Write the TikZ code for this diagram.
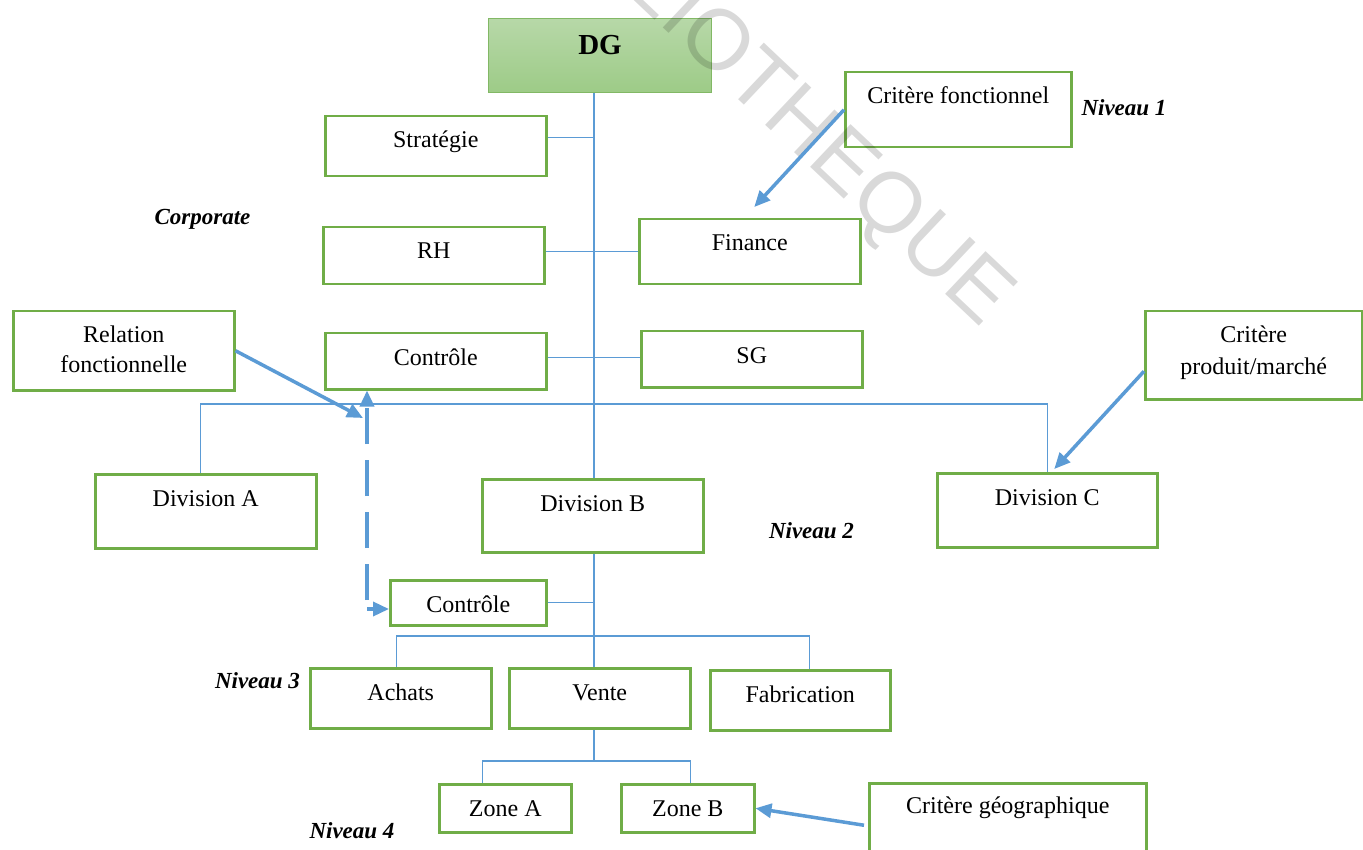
\documentclass[tikz,border=0pt]{standalone}
\usepackage{fontspec}
\setmainfont{Liberation Serif}
\setsansfont{Liberation Sans}
\usetikzlibrary{arrows.meta,calc}

\definecolor{boxgreen}{HTML}{70AD47}
\definecolor{linkblue}{HTML}{5B9BD5}
\definecolor{dgtop}{HTML}{B7D8A8}
\definecolor{dgbottom}{HTML}{9DCB87}
\definecolor{dgedge}{HTML}{82B865}

\begin{document}
\begin{tikzpicture}[x=1pt,y=-1pt,
  unit/.style 2 args={rectangle, draw=boxgreen, line width=2.5pt, fill=white,
    anchor=north west, inner sep=0pt, minimum width=#1, minimum height=#2},
  lbl/.style={anchor=base, yshift=-33pt, inner sep=0pt,
    font=\fontsize{24}{28}\selectfont},
  lvl/.style={anchor=base, inner sep=0pt,
    font=\bfseries\itshape\fontsize{23}{27}\selectfont},
  conn/.style={draw=linkblue, line width=1.2pt},
  arr/.style={draw=linkblue, line width=3.5pt,
    -{Triangle[length=16pt,width=14pt]}},
  dashline/.style={dash pattern=on 36pt off 16pt},
  watermark/.style={font=\sffamily\fontsize{85.5}{90}\selectfont,
    text=black, opacity=0.15, anchor=base, inner sep=0pt}
]
\fill[white] (0,0) rectangle (1363,850);
\useasboundingbox (0,0) rectangle (1363,850);

% ---- head office ----
\node[unit={223}{74}, draw=dgedge, line width=1pt,
      top color=dgtop, bottom color=dgbottom,
      label={[anchor=base, yshift=-37pt, inner sep=0pt,
              font=\bfseries\fontsize{29}{34}\selectfont]north:DG}] (dg) at (488,18) {};

\node[unit={221}{60}, label={[lbl]north:Stratégie}] (strat) at (324,115) {};
\node[unit={221}{57}, label={[lbl]north:RH}] (rh) at (322,226) {};
\node[unit={221}{56}, label={[lbl]north:Contrôle}] (ctrl1) at (324,332) {};
\node[unit={221}{65}, label={[lbl]north:Finance}] (fin) at (638,218) {};
\node[unit={221}{56}, label={[lbl]north:SG}] (sg) at (640,330) {};

% ---- criteria and relation boxes ----
\node[unit={226}{75}, label={[lbl]north:Critère fonctionnel}] (critF) at (844,71) {};
\node[unit={221}{79}, label={[lbl]north:Relation},
      label={[lbl, yshift=-30pt]north:fonctionnelle}] (rel) at (12,310) {};
\node[unit={217}{88}, label={[lbl]north:Critère},
      label={[lbl, yshift=-31pt]north:produit/marché}] (critP) at (1144,310) {};
\node[unit={277}{90}, label={[lbl, yshift=2pt]north:Critère géographique}] (critG) at (868,782) {};

% ---- divisions ----
\node[unit={221}{74}, label={[lbl]north:Division A}] (divA) at (94,473) {};
\node[unit={221}{73}, label={[lbl]north:Division B}] (divB) at (481,478) {};
\node[unit={220}{74}, label={[lbl]north:Division C}] (divC) at (936,472) {};

% ---- division B departments ----
\node[unit={156}{45}, label={[lbl]north:Contrôle}] (ctrl2) at (389,579) {};
\node[unit={181}{60}, label={[lbl]north:Achats}] (achats) at (309,667) {};
\node[unit={181}{60}, label={[lbl]north:Vente}] (vente) at (508,667) {};
\node[unit={180}{60}, label={[lbl]north:Fabrication}] (fab) at (709,669) {};
\node[unit={132}{48}, label={[lbl]north:Zone A}] (zoneA) at (438,783) {};
\node[unit={133}{48}, label={[lbl]north:Zone B}] (zoneB) at (620,783) {};

% ---- level captions ----
\node[lvl] (n1) at (1124,116) {Niveau 1};
\node[lvl] (corp) at (202.5,225) {Corporate};
\node[lvl] (n2) at (811.5,538) {Niveau 2};
\node[lvl] (n3) at (257.5,688) {Niveau 3};
\node[lvl] (n4) at (352,838) {Niveau 4};

% ---- hierarchy links ----
\coordinate (tr) at (594,0);
\draw[conn] (dg.south -| tr) -- (divB.north -| tr);
\draw[conn] ([yshift=9pt]strat.east) coordinate (s1) -- (s1 -| tr);
\draw[conn] ([yshift=4.5pt]rh.east) coordinate (r1) -- (r1 -| fin.west);
\draw[conn] ([yshift=4pt]ctrl1.east) coordinate (c1) -- (c1 -| sg.west);
\coordinate (bus) at (594,404);
\draw[conn] ([xshift=-5pt]divA.north) |- (bus) -| (divC.north);

\draw[conn] (divB.south -| tr) -- (vente.north -| tr);
\draw[conn] (ctrl2.east) -- (ctrl2.east -| tr);
\coordinate (bus2) at (594,636);
\draw[conn] ([xshift=-4pt]achats.north) |- (bus2) -| ([xshift=9pt]fab.north);
\coordinate (zbus) at (594,761);
\draw[conn] (vente.south -| tr) -- (zbus);
\draw[conn] ([xshift=-22.5pt]zoneA.north) |- (zbus) -| ([xshift=2.5pt]zoneB.north);

% ---- watermark ----
\node[watermark, rotate=-43.4] (wm) at (752,112) {BIBLIOTHEQUE};

% ---- criteria arrows ----
\coordinate (finTip) at ([xshift=4.5pt,yshift=11pt]fin.north);
\draw[arr] (critF.west) -- (finTip);
\coordinate (relTip) at (363,418);
\draw[arr] (rel.east) -- (relTip);
\coordinate (divCTip) at ([xshift=7pt,yshift=3pt]divC.north);
\draw[arr] ([yshift=-16pt]critP.west) -- (divCTip);
\draw[arr] ([xshift=-4pt,yshift=3pt]critG.west) -- (zoneB.east);

% ---- functional relation between the two control units ----
\coordinate (dk) at (367,609);
\draw[arr, dashline] ([yshift=9pt]dk) -- (ctrl1.south -| dk);
\draw[arr] (dk) -- (dk -| ctrl2.west);
\end{tikzpicture}
\end{document}
